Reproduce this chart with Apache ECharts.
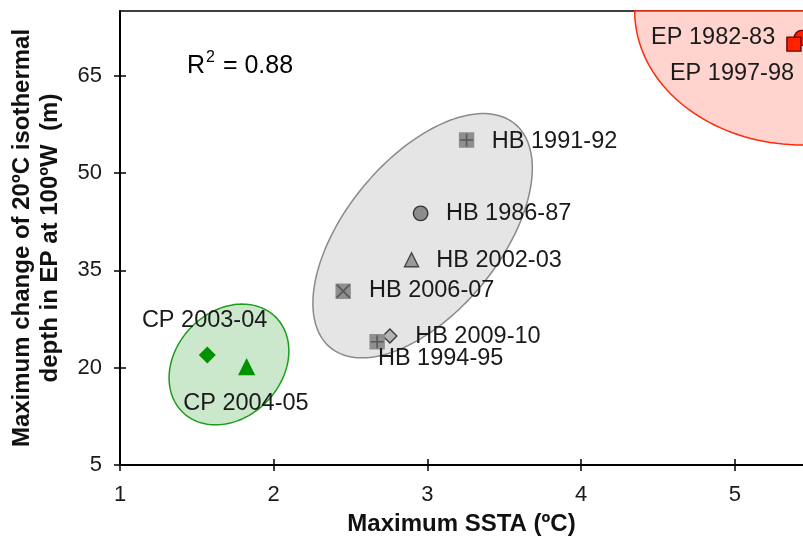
<!DOCTYPE html>
<html><head><meta charset="utf-8">
<script src="https://cdn.jsdelivr.net/npm/echarts@6/dist/echarts.min.js"></script>
<style>html,body{margin:0;padding:0;background:#fff}#c{width:803px;height:538px}</style>
</head><body><div id="c"></div>
<script>
// ---- data ----
const eventNames = ['HB 1991-92','HB 1986-87','HB 2002-03','HB 2006-07','HB 2009-10','HB 1994-95','CP 2003-04','CP 2004-05','EP 1997-98','EP 1982-83'];
const maxSSTA   = [3.255, 2.956, 2.897, 2.452, 2.756, 2.673, 1.568, 1.824, 5.436, 5.385];
const maxDepth  = [55.1, 43.8, 36.65, 31.8, 24.9, 24.0, 21.96, 20.1, 70.86, 69.9];
const xTickValues = [1, 2, 3, 4, 5];
const yTickValues = [5, 20, 35, 50, 65];
const groupNames   = ['HB', 'CP', 'EP'];
const groupCenterX = [2.969, 1.709, 5.442];
const groupCenterY = [40.35, 20.5, 75.0];
const rSquaredText = '0.88';

// ---- styles ----
const FONT = 'Liberation Sans, Arial, sans-serif';
const groupStyle = {
  HB: {a: 145, b: 77, rot: 50.5, fill: '#e5e5e5', stroke: '#8a8a8a'},
  CP: {a: 66.5, b: 53, rot: 46, fill: '#cce8cc', stroke: '#1c9c1c'},
  EP: {a: 168, b: 134, rot: 0, fill: '#ffd4cf', stroke: '#ff2a0a'}
};
const markerStyle = {
  'HB 1991-92': {symbol: 'rect', size: 14, color: '#8f8f8f', border: '#8f8f8f', overlay: 'plus'},
  'HB 1994-95': {symbol: 'rect', size: 14, color: '#8f8f8f', border: '#8f8f8f', overlay: 'plus'},
  'HB 2006-07': {symbol: 'rect', size: 14, color: '#8f8f8f', border: '#8f8f8f', overlay: 'cross'},
  'HB 1986-87': {symbol: 'circle', size: 14.5, color: '#8c8c8c', border: '#333333'},
  'HB 2002-03': {symbol: 'triangle', size: 14, color: '#9a9a9a', border: '#444444'},
  'HB 2009-10': {symbol: 'diamond', size: 14, color: '#b4b4b4', border: '#3c3c3c'},
  'CP 2003-04': {symbol: 'diamond', size: 15, color: '#009300', border: '#009300'},
  'CP 2004-05': {symbol: 'triangle', size: 15, color: '#009300', border: '#009300'},
  'EP 1997-98': {symbol: 'circle', size: 15, color: '#ff2200', border: '#700000'},
  'EP 1982-83': {symbol: 'rect', size: 14, color: '#ff2200', border: '#700000'}
};
// label anchor relative to marker centre (px) and alignment
const labelPlace = {
  'HB 1991-92': [26, 2.5, 'left'],
  'HB 1986-87': [26, 1, 'left'],
  'HB 2002-03': [25.5, 1, 'left'],
  'HB 2006-07': [26.5, 0, 'left'],
  'HB 2009-10': [26, 1, 'left'],
  'HB 1994-95': [1.5, 17, 'left'],
  'CP 2003-04': [-2, -34, 'center'],
  'CP 2004-05': [0, 37.5, 'center'],
  'EP 1982-83': [-18, -5.5, 'right'],
  'EP 1997-98': [-7, 36.5, 'right']
};

function ellipsePoints(cx, cy, a, b, deg, topLimit) {
  const t = deg * Math.PI / 180, pts = [];
  for (let i = 0; i < 160; i++) {
    const p = i / 160 * 2 * Math.PI, u = a * Math.cos(p), v = b * Math.sin(p);
    pts.push([cx + u * Math.cos(t) + v * Math.sin(t), Math.max(topLimit, cy - u * Math.sin(t) + v * Math.cos(t))]);
  }
  return pts;
}

const series = [{
  type: 'custom', coordinateSystem: 'cartesian2d', xAxisIndex: 0, yAxisIndex: 0,
  clip: false, silent: true, z: 1,
  data: groupNames.map((n, i) => [groupCenterX[i], groupCenterY[i]]),
  renderItem: (params, api) => {
    const c = api.coord([api.value(0), api.value(1)]);
    const s = groupStyle[groupNames[params.dataIndex]];
    const top = params.coordSys.y;
    return {type: 'polygon', shape: {points: ellipsePoints(c[0], c[1], s.a, s.b, s.rot, top)},
      style: {fill: s.fill, stroke: s.stroke, lineWidth: 1.5}};
  }
}];

eventNames.forEach((name, i) => {
  const m = markerStyle[name], lp = labelPlace[name], h = m.size / 2;
  series.push({
    type: 'scatter', name, xAxisIndex: 0, yAxisIndex: 0, z: 3,
    data: [[maxSSTA[i], maxDepth[i]]],
    symbol: m.symbol, symbolSize: m.size,
    itemStyle: {color: m.color, borderColor: m.border, borderWidth: 1.4, opacity: 1},
    label: {show: true, formatter: name, position: [h + lp[0], h + lp[1]], align: lp[2], verticalAlign: 'middle',
      fontFamily: FONT, fontSize: 23.5, color: '#1a1a1a'},
    emphasis: {disabled: true}
  });
  if (m.overlay) {
    series.push({
      type: 'scatter', xAxisIndex: 0, yAxisIndex: 0, z: 4, silent: true,
      data: [[maxSSTA[i], maxDepth[i]]],
      symbol: m.overlay === 'plus' ? 'path://M5,0V10M0,5H10' : 'path://M0,0L10,10M10,0L0,10',
      symbolSize: m.size - 1,
      itemStyle: {color: 'none', borderColor: '#4a4a4a', borderWidth: 1.6},
      emphasis: {disabled: true}
    });
  }
});

const gridBox = {left: 120, top: 11, right: 0, bottom: 73, outerBoundsMode: 'none', containLabel: false};
const xMin = 1, xMax = 5.444, yMin = 5, yMax = 75;
const tickLine = {color: '#000', width: 1.5};

const option = {
  animation: false,
  backgroundColor: '#fff',
  grid: [Object.assign({}, gridBox), Object.assign({}, gridBox)],
  xAxis: [{
    gridIndex: 0, type: 'value', min: xMin, max: xMax, interval: 1, position: 'bottom',
    name: 'Maximum SSTA (ºC)', nameLocation: 'middle', nameGap: 59,
    nameTextStyle: {fontFamily: FONT, fontSize: 24, fontWeight: 'bold', color: '#111', verticalAlign: 'middle'},
    axisLine: {show: true, lineStyle: {color: '#000', width: 2}},
    axisTick: {show: true, length: 6, customValues: xTickValues, lineStyle: tickLine},
    axisLabel: {customValues: xTickValues, margin: 19, fontFamily: FONT, fontSize: 22, color: '#1a1a1a'},
    splitLine: {show: false}
  }, {
    gridIndex: 0, type: 'value', min: xMin, max: xMax, position: 'top',
    axisLine: {show: true, lineStyle: {color: '#000', width: 1.5}},
    axisTick: {show: false}, axisLabel: {show: false}, splitLine: {show: false}
  }, {
    gridIndex: 1, type: 'value', min: xMin, max: xMax, interval: 1, position: 'bottom',
    axisLine: {show: false},
    axisTick: {show: true, inside: true, length: 6, customValues: xTickValues, lineStyle: tickLine},
    axisLabel: {show: false}, splitLine: {show: false}
  }],
  yAxis: [{
    gridIndex: 0, type: 'value', min: yMin, max: yMax, interval: 15,
    name: 'Maximum change of 20ºC isothermal\ndepth in EP at 100ºW  (m)', nameLocation: 'middle', nameGap: 84, nameRotate: 90,
    nameTextStyle: {fontFamily: FONT, fontSize: 24, fontWeight: 'bold', color: '#111', lineHeight: 28, verticalAlign: 'middle'},
    axisLine: {show: true, lineStyle: {color: '#000', width: 2}},
    axisTick: {show: true, length: 6, customValues: yTickValues, lineStyle: tickLine},
    axisLabel: {customValues: yTickValues, margin: 18, fontFamily: FONT, fontSize: 22, color: '#1a1a1a'},
    splitLine: {show: false}
  }, {
    gridIndex: 1, type: 'value', min: yMin, max: yMax, interval: 15,
    axisLine: {show: false},
    axisTick: {show: true, inside: true, length: 6, customValues: yTickValues, lineStyle: tickLine},
    axisLabel: {show: false}, splitLine: {show: false}
  }],
  graphic: [{
    type: 'text', left: 187, top: 50, z: 10,
    style: {
      text: '{r|R}{s|2}{r| = ' + rSquaredText + '}',
      rich: {
        r: {fontFamily: FONT, fontSize: 25, color: '#111', verticalAlign: 'bottom', lineHeight: 29},
        s: {fontFamily: FONT, fontSize: 16, color: '#111', verticalAlign: 'top', lineHeight: 17, padding: [0, 1, 0, 1]}
      }
    }
  }],
  series
};

const chart = echarts.init(document.getElementById('c'), null, {renderer: 'canvas'});
chart.setOption(option);
</script>
</body></html>
